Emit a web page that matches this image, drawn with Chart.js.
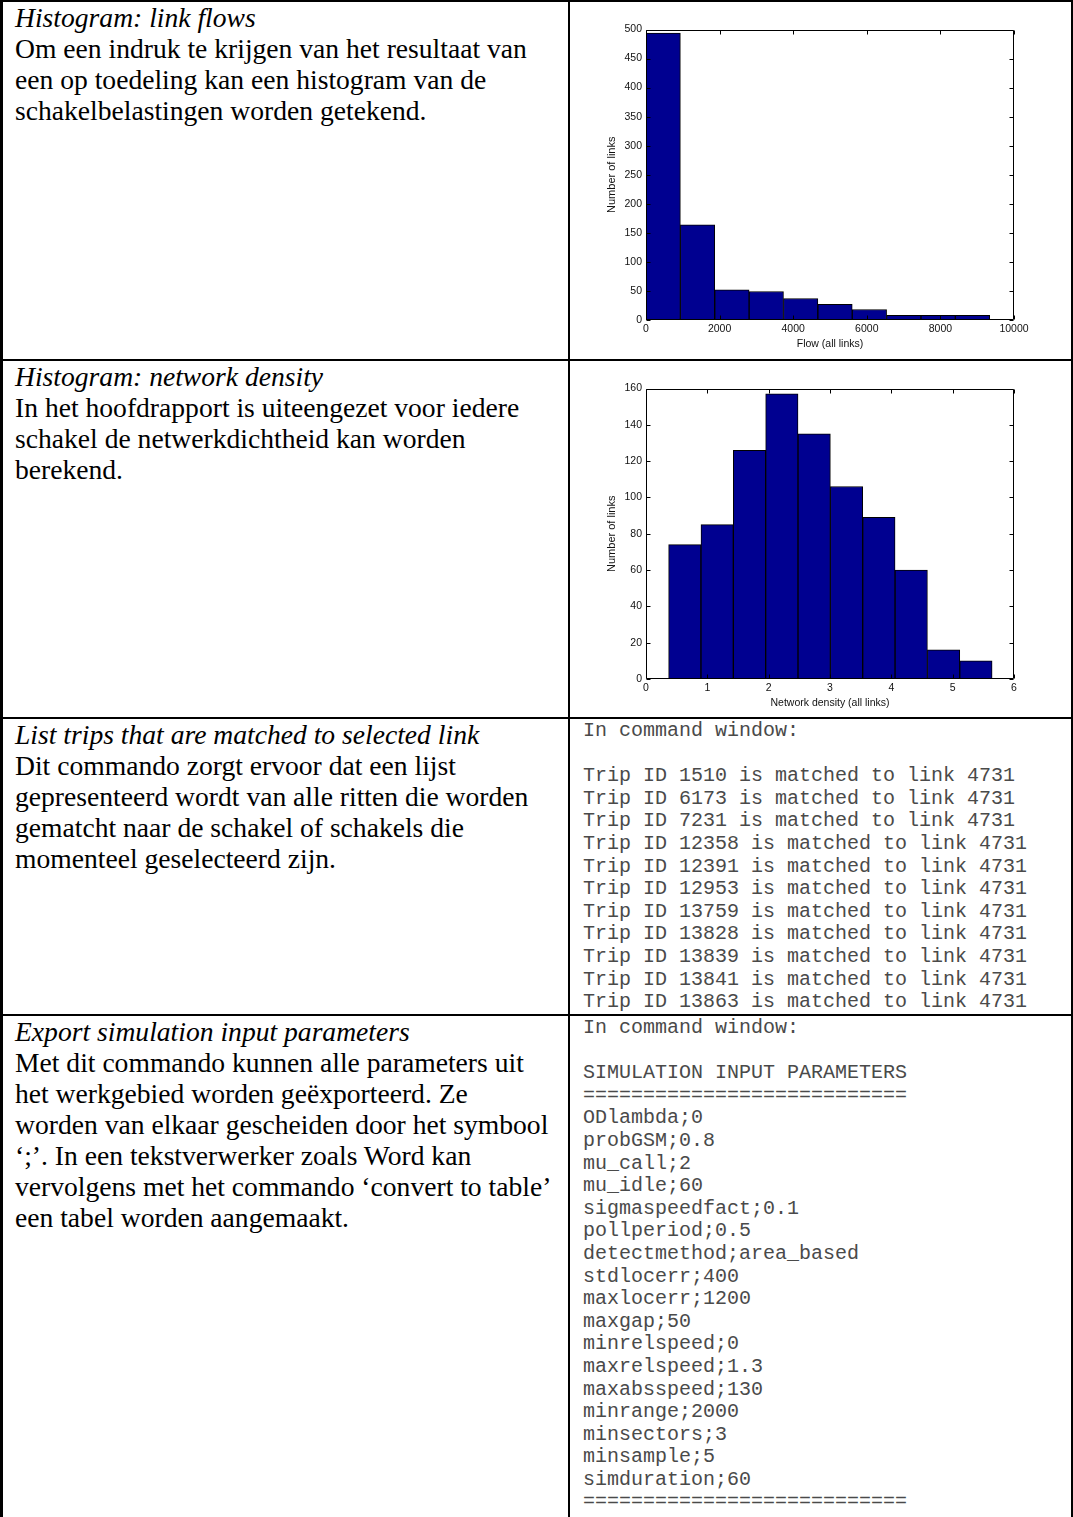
<!DOCTYPE html>
<html>
<head>
<meta charset="utf-8">
<script src="https://cdn.jsdelivr.net/npm/chart.js@4.4.1/dist/chart.umd.min.js"></script>
<style>
    body { margin: 0; background: #fff; }
    #page { position: relative; width: 1073px; height: 1517px; overflow: hidden; background: #fff; }
    .line { position: absolute; background: #000; }
    .txt {
        position: absolute; left: 15px; width: 550px;
        font-family: "Liberation Serif", "Times New Roman", serif;
        font-size: 27.6px; line-height: 31px; color: #000; white-space: nowrap;
    }
    .code {
        position: absolute; left: 583px; margin: 0;
        font-family: "Liberation Mono", "Courier New", monospace;
        font-size: 20px; line-height: 22.6px; color: #4a4a4a; white-space: pre;
    }
    canvas { position: absolute; left: 570px; }
</style>
</head>
<body>
<div id="page">
    <!-- table lines -->
    <div class="line" style="left:0;top:0;width:3px;height:1517px"></div>
    <div class="line" style="left:568px;top:0;width:2px;height:1517px"></div>
    <div class="line" style="left:1071px;top:0;width:2px;height:1517px"></div>
    <div class="line" style="left:0;top:0;width:1073px;height:2px"></div>
    <div class="line" style="left:0;top:359px;width:1073px;height:2px"></div>
    <div class="line" style="left:0;top:717px;width:1073px;height:2px"></div>
    <div class="line" style="left:0;top:1014px;width:1073px;height:2px"></div>

    <div class="txt" style="top:2px"><i>Histogram: link flows</i><br>Om een indruk te krijgen van het resultaat van<br>een op toedeling kan een histogram van de<br>schakelbelastingen worden getekend.</div>
    <div class="txt" style="top:361px"><i>Histogram: network density</i><br>In het hoofdrapport is uiteengezet voor iedere<br>schakel de netwerkdichtheid kan worden<br>berekend.</div>
    <div class="txt" style="top:719px"><i>List trips that are matched to selected link</i><br>Dit commando zorgt ervoor dat een lijst<br>gepresenteerd wordt van alle ritten die worden<br>gematcht naar de schakel of schakels die<br>momenteel geselecteerd zijn.</div>
    <div class="txt" style="top:1016px"><i>Export simulation input parameters</i><br>Met dit commando kunnen alle parameters uit<br>het werkgebied worden geëxporteerd. Ze<br>worden van elkaar gescheiden door het symbool<br>‘;’. In een tekstverwerker zoals Word kan<br>vervolgens met het commando ‘convert to table’<br>een tabel worden aangemaakt.</div>

    <canvas id="flowChart" width="501" height="355" style="top:2px"></canvas>
    <canvas id="densityChart" width="501" height="355" style="top:361px"></canvas>

<pre class="code" style="top:720px">In command window:

Trip ID 1510 is matched to link 4731
Trip ID 6173 is matched to link 4731
Trip ID 7231 is matched to link 4731
Trip ID 12358 is matched to link 4731
Trip ID 12391 is matched to link 4731
Trip ID 12953 is matched to link 4731
Trip ID 13759 is matched to link 4731
Trip ID 13828 is matched to link 4731
Trip ID 13839 is matched to link 4731
Trip ID 13841 is matched to link 4731
Trip ID 13863 is matched to link 4731</pre>
<pre class="code" style="top:1017px">In command window:

SIMULATION INPUT PARAMETERS
===========================
ODlambda;0
probGSM;0.8
mu_call;2
mu_idle;60
sigmaspeedfact;0.1
pollperiod;0.5
detectmethod;area_based
stdlocerr;400
maxlocerr;1200
maxgap;50
minrelspeed;0
maxrelspeed;1.3
maxabsspeed;130
minrange;2000
minsectors;3
minsample;5
simduration;60
===========================</pre>
</div>

<script>
// histogram 1: link flows
const flowBinCenters = [467, 1401, 2335, 3269, 4203, 5137, 6071, 7005, 7939, 8873];
const flowCounts = [494, 164, 52, 49, 37, 27, 18, 8, 8, 8];
const flowXTicks = [0, 2000, 4000, 6000, 8000, 10000];
const flowYTicks = [0, 50, 100, 150, 200, 250, 300, 350, 400, 450, 500];

// histogram 2: network density
const densityBinCenters = [0.6327, 1.1601, 1.6875, 2.2149, 2.7423, 3.2697, 3.7971, 4.3245, 4.8519, 5.3793];
const densityCounts = [74, 85, 126, 157, 135, 106, 89, 60, 16, 10];
const densityXTicks = [0, 1, 2, 3, 4, 5, 6];
const densityYTicks = [0, 20, 40, 60, 80, 100, 120, 140, 160];

Chart.defaults.font.family = '"Liberation Sans", Arial, Helvetica, sans-serif';
Chart.defaults.font.size = 10.5;
Chart.defaults.color = '#111';

// matlab style box with inward ticks on all four sides
const boxTicks = {
    id: 'boxTicks',
    afterDraw(chart) {
        const { ctx, chartArea: a, scales: { x, y } } = chart;
        const l = Math.round(a.left) + 0.5, r = Math.round(a.right) - 0.5;
        const t = Math.round(a.top) + 0.5, b = Math.round(a.bottom) - 0.5;
        ctx.save();
        ctx.strokeStyle = '#000';
        ctx.lineWidth = 1;
        ctx.beginPath();
        x.ticks.forEach(tk => {
            const px = Math.round(x.getPixelForValue(tk.value)) + 0.5;
            ctx.moveTo(px, b); ctx.lineTo(px, b - 4);
            ctx.moveTo(px, t); ctx.lineTo(px, t + 4);
        });
        y.ticks.forEach(tk => {
            const py = Math.round(y.getPixelForValue(tk.value)) + 0.5;
            ctx.moveTo(l, py); ctx.lineTo(l + 4, py);
            ctx.moveTo(r, py); ctx.lineTo(r - 4, py);
        });
        ctx.rect(l, t, r - l, b - t);
        ctx.stroke();
        ctx.restore();
    }
};

function drawHistogram(id, centers, counts, xTicks, yTicks, xTitle) {
    const ctx = document.getElementById(id).getContext('2d');
    return new Chart(ctx, {
        type: 'bar',
        data: {
            datasets: [{
                data: centers.map((c, i) => ({ x: c, y: counts[i] })),
                backgroundColor: '#000090',
                borderColor: '#000',
                borderWidth: 1,
                borderSkipped: false,
                barPercentage: 1,
                categoryPercentage: 1
            }]
        },
        options: {
            responsive: false,
            animation: false,
            layout: { padding: { left: 0, top: 27.5, right: 57, bottom: 0 } },
            plugins: { legend: { display: false }, tooltip: { enabled: false } },
            scales: {
                x: {
                    type: 'linear',
                    offset: false,
                    min: xTicks[0],
                    max: xTicks[xTicks.length - 1],
                    afterBuildTicks: s => { s.ticks = xTicks.map(v => ({ value: v })); },
                    afterFit: s => { s.height = 37; },
                    grid: { display: false, drawTicks: false, offset: false },
                    border: { display: false },
                    ticks: { padding: 3, maxRotation: 0, callback: v => String(v) },
                    title: { display: true, text: xTitle, padding: { top: 0, bottom: 7 } }
                },
                y: {
                    min: yTicks[0],
                    max: yTicks[yTicks.length - 1],
                    afterBuildTicks: s => { s.ticks = yTicks.map(v => ({ value: v })); },
                    afterFit: s => { s.width = 76; },
                    grid: { display: false, drawTicks: false },
                    border: { display: false },
                    ticks: { padding: 4, callback: v => String(v) },
                    title: { display: true, text: 'Number of links', font: { size: 11 }, padding: { top: 35.1, bottom: 0 } }
                }
            }
        },
        plugins: [boxTicks]
    });
}

drawHistogram('flowChart', flowBinCenters, flowCounts, flowXTicks, flowYTicks, 'Flow (all links)');
drawHistogram('densityChart', densityBinCenters, densityCounts, densityXTicks, densityYTicks, 'Network density (all links)');
</script>
</body>
</html>
